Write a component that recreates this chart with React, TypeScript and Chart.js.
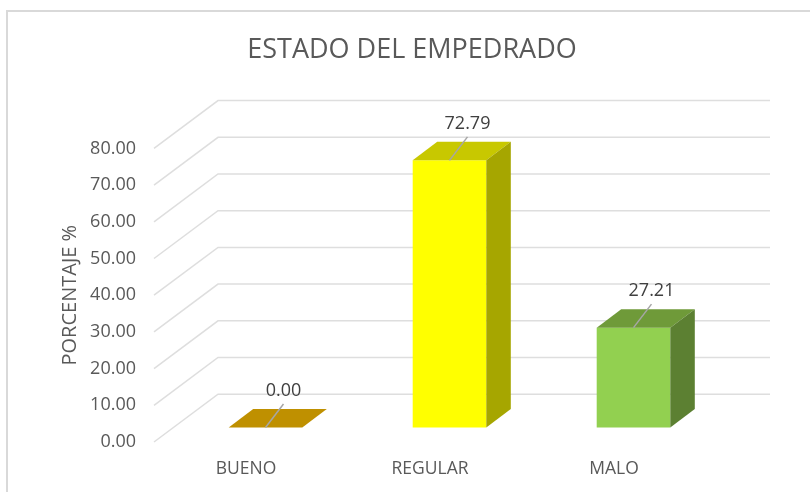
import React, { useEffect, useRef } from "react";
import { Chart, registerables } from "chart.js";

Chart.register(...registerables);

const titleText = "ESTADO DEL EMPEDRADO";
const axisTitle = "PORCENTAJE %";
const categories = ["BUENO", "REGULAR", "MALO"];
const values = [0.0, 72.79, 27.21];
const frontColors = ["#BF9000", "#FFFF00", "#92D050"];
const topColors = ["#BF9000", "#C8C800", "#6F9A39"];
const sideColors = ["#8F6C00", "#A6A600", "#5C8032"];

const FONT = '"Open Sans", sans-serif';
const TEXT = "#595959";
const GRID = "#DEDEDE";
// 3D projection offsets
const WALL = { dx: 64, dy: -47.8 };
const BAR_SHIFT = { dx: 19.5, dy: -14.5 };
const BAR_DEPTH = { dx: 24.5, dy: -18.5 };
const LEADER = { dx: 18, dy: -23.5 };

const depthPlugin = {
  id: "depth3d",
  beforeDraw(chart: any) {
    const { ctx, width, height } = chart;
    ctx.save();
    ctx.fillStyle = "#FFFFFF";
    ctx.fillRect(0, 0, width, height);
    ctx.fillStyle = "#D9D9D9";
    ctx.fillRect(6, 10, width - 6, 2);
    ctx.fillRect(6, 10, 2, height - 10);
    ctx.restore();
  },
  beforeDatasetsDraw(chart: any) {
    const { ctx, chartArea, scales } = chart;
    ctx.save();
    ctx.strokeStyle = GRID;
    ctx.lineWidth = 1.5;
    for (const t of scales.y.ticks) {
      const y = scales.y.getPixelForValue(t.value);
      ctx.beginPath();
      ctx.moveTo(chartArea.left, y);
      ctx.lineTo(chartArea.left + WALL.dx, y + WALL.dy);
      ctx.lineTo(chartArea.right + WALL.dx, y + WALL.dy);
      ctx.stroke();
    }
    ctx.restore();
    ctx.save();
    ctx.translate(BAR_SHIFT.dx, BAR_SHIFT.dy);
  },
  afterDatasetsDraw(chart: any) {
    const { ctx } = chart;
    const bars = chart.getDatasetMeta(0).data;
    bars.forEach((bar: any, i: number) => {
      const half = bar.width / 2;
      const l = bar.x - half;
      const r = bar.x + half;
      const top = bar.y;
      const bottom = bar.base;
      const { dx, dy } = BAR_DEPTH;
      ctx.fillStyle = topColors[i];
      ctx.beginPath();
      ctx.moveTo(l, top);
      ctx.lineTo(r, top);
      ctx.lineTo(r + dx, top + dy);
      ctx.lineTo(l + dx, top + dy);
      ctx.closePath();
      ctx.fill();
      if (bottom - top > 0.5) {
        ctx.fillStyle = sideColors[i];
        ctx.beginPath();
        ctx.moveTo(r, top);
        ctx.lineTo(r + dx, top + dy);
        ctx.lineTo(r + dx, bottom + dy);
        ctx.lineTo(r, bottom);
        ctx.closePath();
        ctx.fill();
      }
      ctx.strokeStyle = "#A6A6A6";
      ctx.lineWidth = 1.5;
      ctx.beginPath();
      ctx.moveTo(bar.x, top);
      ctx.lineTo(bar.x + LEADER.dx, top + LEADER.dy);
      ctx.stroke();
      ctx.fillStyle = "#404040";
      ctx.font = `18px ${FONT}`;
      ctx.textAlign = "center";
      ctx.textBaseline = "middle";
      ctx.fillText(values[i].toFixed(2), bar.x + LEADER.dx, top + LEADER.dy - 13);
    });
    ctx.restore();
  },
};

export default function App() {
  const ref = useRef<HTMLCanvasElement>(null);
  useEffect(() => {
    const chart = new Chart(ref.current as HTMLCanvasElement, {
      type: "bar",
      data: {
        labels: categories,
        datasets: [
          {
            data: values,
            backgroundColor: frontColors,
            borderWidth: 0,
            categoryPercentage: 1,
            barPercentage: 0.4,
            clip: false as any,
            yAxisID: "y",
          },
        ],
      },
      options: {
        responsive: false,
        animation: false,
        layout: { padding: { left: 14, right: 0, top: 0, bottom: 0 } },
        plugins: {
          legend: { display: false },
          tooltip: { enabled: false },
          title: {
            display: true,
            text: titleText,
            color: TEXT,
            font: { family: FONT, size: 27, weight: "normal" },
            padding: { top: 34, bottom: 82 },
          },
        },
        scales: {
          x: {
            grid: { display: false, drawTicks: false },
            border: { display: false },
            ticks: {
              color: TEXT,
              font: { family: FONT, size: 17.5 },
              padding: 17,
              maxRotation: 0,
            },
            afterFit(s: any) {
              s.height = 50;
            },
          },
          y: {
            min: 0,
            max: 80,
            grid: { display: false, drawTicks: false },
            border: { display: false },
            ticks: {
              stepSize: 10,
              color: TEXT,
              font: { family: FONT, size: 18 },
              padding: 18,
              callback: (v: any) => Number(v).toFixed(2),
            },
            title: {
              display: true,
              text: axisTitle,
              color: TEXT,
              font: { family: FONT, size: 20, weight: "normal" },
              padding: { top: 44, bottom: 0 },
            },
            afterFit(s: any) {
              s.width = 140;
            },
          },
          // empty right-hand margin, so the title stays centred on the page
          margin: {
            axis: "y",
            position: "right",
            grid: { display: false, drawTicks: false },
            border: { display: false },
            ticks: { display: false },
            afterFit(s: any) {
              s.width = 104;
            },
          },
        },
      },
      plugins: [depthPlugin],
    } as any);
    return () => chart.destroy();
  }, []);
  return (
    <div style={{ position: "absolute", left: 0, top: 0, width: 810, height: 492 }}>
      <canvas ref={ref} width={810} height={492} style={{ display: "block" }} />
    </div>
  );
}
